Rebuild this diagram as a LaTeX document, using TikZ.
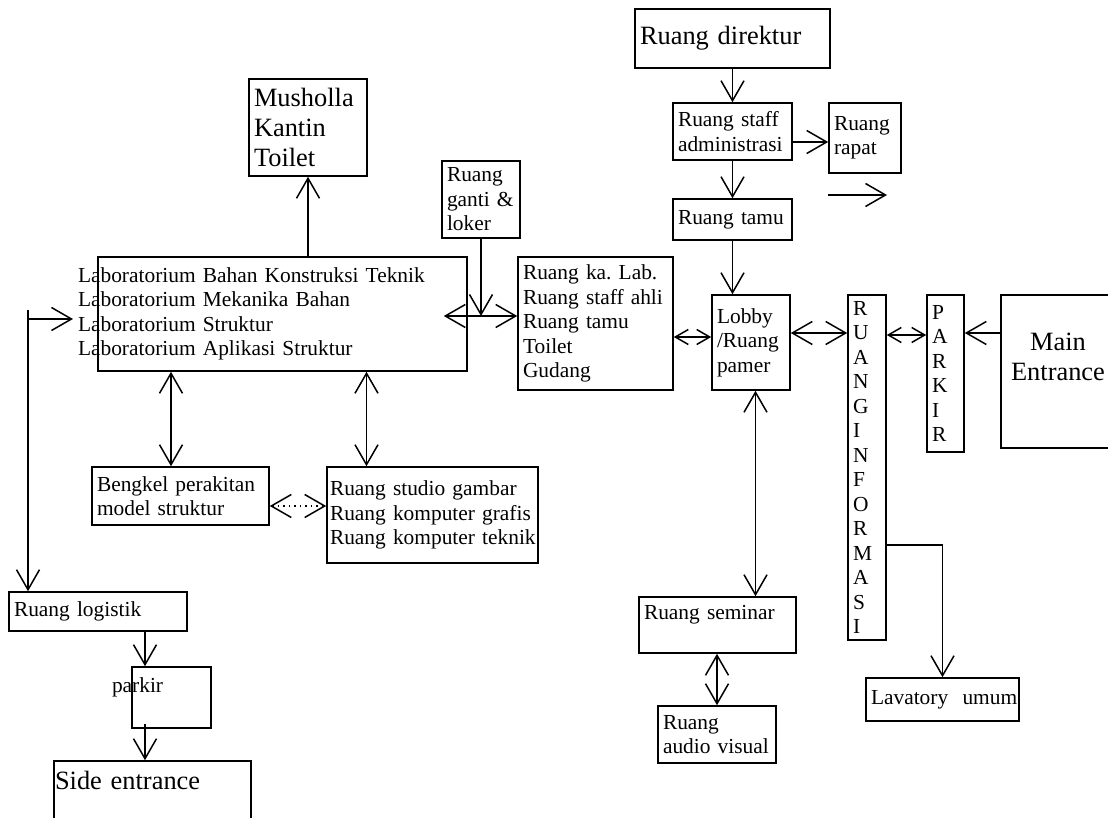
\documentclass[tikz,border=0pt]{standalone}
\usepackage{fontspec}
\setmainfont{Liberation Serif}
\usetikzlibrary{arrows.meta}
\frenchspacing
\hyphenpenalty=10000
\newcommand{\roomfont}{\fontsize{10.7}{12.25}\selectfont}
\newcommand{\bigroomfont}{\fontsize{13.2}{15}\selectfont}

\begin{document}
\begin{tikzpicture}[x=0.5pt, y=-0.5pt,
        room/.style={draw, line width=0.8pt, inner xsep=2.5pt, inner ysep=0pt, align=left, font=\roomfont},
        bigroom/.style={room, font=\bigroomfont},
        arr/.style={line width=0.75pt, -{Straight Barb[length=10pt, width=11.5pt]}},
        arrs/.style={line width=0.75pt, {Straight Barb[length=10pt, width=11.5pt]}-{Straight Barb[length=10pt, width=11.5pt]}},
        arrss/.style={line width=0.75pt, {Straight Barb[length=6.5pt, width=7.5pt]}-{Straight Barb[length=6.5pt, width=7.5pt]}}]
    \useasboundingbox (0,0) rectangle (1108,818);

    % rooms
    \node[bigroom, text width=54pt, minimum height=48.5pt] (mushola) at (308,127.5) {Musholla\\Kantin\\Toilet};
    \node[room, text width=34pt, minimum height=38.5pt] (ganti) at (481,199.5) {Ruang\\ganti~\&\\loker};
    \node[room, inner xsep=-10pt, text width=204.5pt, minimum height=57pt] (lab) at (282.5,314) {Laboratorium Bahan Konstruksi Teknik\\Laboratorium Mekanika Bahan\\Laboratorium Struktur\\Laboratorium Aplikasi Struktur};
    \node[room, text width=72.5pt, minimum height=66.5pt] (kalab) at (595.5,323.5) {Ruang ka. Lab.\\Ruang~staff~ahli\\Ruang tamu\\Toilet\\Gudang};
    \node[room, text width=34pt, minimum height=47.5pt] (lobby) at (751,342.5) {Lobby\\/Ruang\\pamer};
    \node[bigroom, text width=92.5pt, minimum height=29.5pt] (direktur) at (732.5,38.5) {Ruang direktur};
    \node[room, text width=54.5pt, minimum height=28.5pt] (staff) at (732.5,131.5) {Ruang~staff\\administrasi};
    \node[room, text width=31pt, minimum height=35pt] (rapat) at (865,138) {Ruang\\rapat};
    \node[room, text width=54.5pt, minimum height=20.5pt] (tamu) at (732.5,219.5) {Ruang~tamu};
    \node[room, text width=14pt, minimum height=172.5pt] (info) at (867,467.5) {R\\U\\A\\N\\G\\I\\N\\F\\O\\R\\M\\A\\S\\I};
    \node[room, text width=13.5pt, minimum height=78.5pt] (parkir) at (945.5,373.5) {P\\A\\R\\K\\I\\R};
    \node[bigroom, align=center, text width=52pt, minimum height=76.5pt] (main) at (1058,371.5) {Main\\Entrance\\\mbox{}};
    \node[room, text width=83.5pt, minimum height=29pt] (bengkel) at (180.5,496) {Bengkel~perakitan\\model~struktur};
    \node[room, inner xsep=1.5pt, text width=102.5pt, minimum height=48pt] (studio) at (432.5,515) {Ruang~studio~gambar\\Ruang~komputer~grafis\\Ruang~komputer~teknik};
    \node[room, text width=84pt, minimum height=19.5pt] (logistik) at (98,611.5) {Ruang logistik};
    \node[room, inner xsep=-10pt, text width=59.5pt, minimum height=30.5pt] (pkr) at (171.5,697.5) {parkir\\\mbox{}};
    \node[bigroom, inner xsep=0.5pt, text width=97.5pt, minimum height=34pt] (side) at (152.5,795) {Side~entrance\\\mbox{}};
    \node[room, text width=73.5pt, minimum height=28pt] (seminar) at (717.5,625) {Ruang~seminar\\\mbox{}};
    \node[room, text width=54pt, minimum height=28.5pt] (audio) at (717,734.5) {Ruang\\audio~visual};
    \node[room, text width=71.5pt, minimum height=21.5pt] (lavatory) at (942.5,699.5) {Lavatory~~umum};

    % free ends
    \coordinate (labkalab) at ([yshift=-1pt]lab.east);
    \coordinate (lgtop) at (28,310);
    \coordinate (lgtip) at (73,319);
    \coordinate (strayA) at (828,195);
    \coordinate (strayB) at (887,195);

    % connectors
    \draw[arr] (lab.north -| mushola.south) -- (mushola.south);
    \draw[arrs] ([xshift=-12pt]labkalab) -- (labkalab -| kalab.west);
    \draw[arr] (ganti.south) -- (ganti.south |- labkalab);
    \draw[arr] (lgtop) -- (lgtop |- logistik.north);
    \draw[arr] (lgtop |- lgtip) -- (lgtip);
    \draw[arrs] ([xshift=-4.75pt]bengkel.north) -- ([xshift=-4.75pt]bengkel.north |- lab.south);
    \draw[arrs] ([xshift=-33pt]studio.north) -- ([xshift=-33pt]studio.north |- lab.south);
    \draw[arrs, dotted] ([yshift=-5pt]bengkel.east) -- ([yshift=-5pt]bengkel.east -| studio.west);
    \draw[arr] (direktur) -- (staff);
    \draw[arr] ([yshift=-5.25pt]staff.east) -- ([yshift=-5.25pt]staff.east -| rapat.west);
    \draw[arr] (strayA) -- (strayB);
    \draw[arr] (staff) -- (tamu);
    \draw[arr] (tamu.south) -- (tamu.south |- lobby.north);
    \draw[arrss] ([yshift=2.75pt]kalab.east |- lobby.west) -- ([yshift=2.75pt]lobby.west);
    \draw[arrs] ([yshift=4.75pt]lobby.east) -- ([yshift=4.75pt]lobby.east -| info.west);
    \draw[arrss] ([yshift=19.25pt]parkir.west -| info.east) -- ([yshift=19.25pt]parkir.west);
    \draw[arr] ([yshift=19.25pt]main.west) -- ([yshift=19.25pt]main.west -| parkir.east);
    \draw[arrs] ([xshift=2.25pt]lobby.south) -- ([xshift=2.25pt]lobby.south |- seminar.north);
    \draw[arrs] (audio.north |- seminar.south) -- (audio.north);
    \draw[arr] ([yshift=-38.75pt]info.east) -| (lavatory.north);
    \draw[arr] ([xshift=-13.25pt]pkr.north |- logistik.south) -- ([xshift=-13.25pt]pkr.north);
    \draw[arr] ([xshift=-13.25pt, yshift=2.5pt]pkr.south) -- ([xshift=-13.25pt]pkr.south |- side.north);
\end{tikzpicture}
\end{document}
